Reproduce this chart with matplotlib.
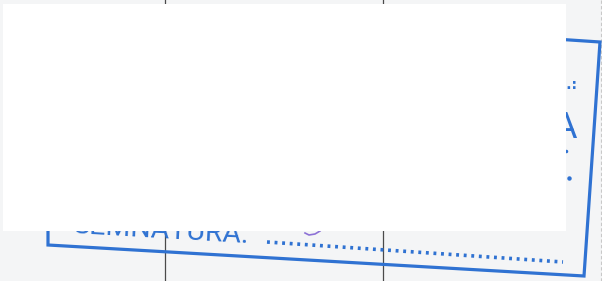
import matplotlib.pyplot as plt
from matplotlib.patches import Rectangle

W, H = 602, 281

# page rules (x positions of the thin vertical lines of the scanned sheet)
rule_x = [165, 383]
edge_rule_x = 601

# stamp border, pixel coordinates of the scan
border_x = [48, 48, 584, 600, 540]
border_y = [190, 245, 276, 42, 38]

# dotted signature line
dots_x = [267, 563]
dots_y = [242, 262]

# white cover box
box_x, box_y, box_w, box_h = 3, 4, 563, 227

stamp_blue = '#2f72d2'

fig = plt.figure(figsize=(W / 100, H / 100), dpi=100)
ax = fig.add_axes([0, 0, 1, 1])
ax.set_xlim(0, W)
ax.set_ylim(H, 0)
ax.axis('off')
fig.patch.set_facecolor('#f4f5f6')

for x in rule_x:
    ax.plot([x, x], [0, H], color='#4a4a4a', lw=0.9, zorder=1)
ax.plot([edge_rule_x, edge_rule_x], [0, H], color='#c8c8c8', lw=0.8,
        linestyle=(0, (3, 2)), zorder=1)

ax.plot(border_x, border_y, color=stamp_blue, lw=2.3, solid_joinstyle='miter', zorder=2)
ax.plot(dots_x, dots_y, color=stamp_blue, lw=2.6, linestyle=(0, (0.8, 1.3)),
        dash_capstyle='butt', zorder=2)

ax.text(73, 233.3, 'SEMNĂTURA.', color=stamp_blue, fontsize=20.5, rotation=-3.3,
        family=['Roboto', 'DejaVu Sans'],
        rotation_mode='anchor', ha='left', va='baseline', zorder=2)
ax.text(577, 138, 'A', color=stamp_blue, fontsize=26, ha='right', va='baseline',
        family=['Roboto', 'DejaVu Sans'], zorder=2)
ax.text(578, 89, '..:', color=stamp_blue, fontsize=10, ha='right', va='baseline',
        fontweight='bold', zorder=2)
ax.plot([566], [151], 'o', color=stamp_blue, ms=1.5, zorder=2)
ax.plot([569], [178], 'o', color=stamp_blue, ms=2.2, zorder=2)
# small violet pen stroke peeking out below the box
ax.plot([305, 309, 315, 320], [233, 235, 234, 231], color='#8d72d6', lw=1.2, zorder=2)

ax.add_patch(Rectangle((box_x, box_y), box_w, box_h, facecolor='white',
                       edgecolor='none', zorder=5))

fig.savefig('out.png', dpi=100, facecolor=fig.get_facecolor())
